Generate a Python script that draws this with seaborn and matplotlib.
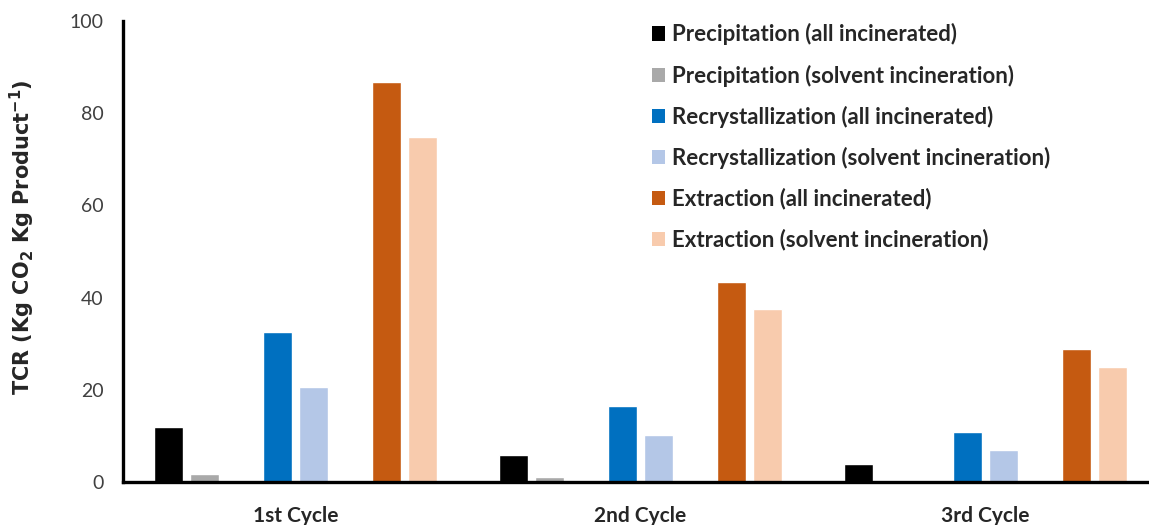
import matplotlib
matplotlib.use("Agg")
import matplotlib.pyplot as plt
from matplotlib.patches import Patch
import pandas as pd
import seaborn as sns

# values (Kg CO2 / Kg product)
CYCLES = ["1st Cycle", "2nd Cycle", "3rd Cycle"]
PRECIP_ALL = [12.0, 5.8, 3.8]
PRECIP_SOLV = [1.8, 1.0, 0.0]
RECRYST_ALL = [32.5, 16.4, 10.8]
RECRYST_SOLV = [20.5, 10.3, 6.9]
EXTRACT_ALL = [86.8, 43.4, 28.9]
EXTRACT_SOLV = [74.8, 37.5, 25.0]

SERIES = [
    "Precipitation (all incinerated)",
    "Precipitation (solvent incineration)",
    "Recrystallization (all incinerated)",
    "Recrystallization (solvent incineration)",
    "Extraction (all incinerated)",
    "Extraction (solvent incineration)",
]
COLORS = ["#000000", "#A9A9A9", "#0070C0", "#B4C7E7", "#C55A11", "#F8CBAD"]

# two empty hue levels keep the gap between process pairs
SPACER1, SPACER2 = "_gap1", "_gap2"
HUE_ORDER = [SERIES[0], SERIES[1], SPACER1, SERIES[2], SERIES[3], SPACER2, SERIES[4], SERIES[5]]


def main():
    values = [PRECIP_ALL, PRECIP_SOLV, RECRYST_ALL, RECRYST_SOLV, EXTRACT_ALL, EXTRACT_SOLV]
    rows = []
    for name, vals in zip(SERIES, values):
        for cyc, v in zip(CYCLES, vals):
            rows.append({"cycle": cyc, "series": name, "tcr": v})
    df = pd.DataFrame(rows)

    palette = dict(zip(SERIES, COLORS))
    palette[SPACER1] = "white"
    palette[SPACER2] = "white"

    sns.set_style("white")
    plt.rcParams["font.family"] = ["Lato", "DejaVu Sans"]
    plt.rcParams["mathtext.fontset"] = "dejavusans"

    fig = plt.figure(figsize=(11.49, 5.25), dpi=100)
    ax = fig.add_axes([123 / 1149, 43 / 525, 1035 / 1149, 461 / 525])

    sns.barplot(data=df, x="cycle", y="tcr", hue="series", hue_order=HUE_ORDER,
                palette=palette, width=0.842, gap=0.2, saturation=1,
                legend=False, ax=ax)

    ax.set_ylim(0, 100)
    ax.set_xlim(-0.5, 2.5)
    ax.set_yticks([0, 20, 40, 60, 80, 100])
    ax.tick_params(axis="y", direction="out", length=6, width=2.2, labelsize=14,
                   colors="black", labelcolor="#404040", pad=8)
    ax.tick_params(axis="x", length=0, labelsize=15, pad=17)
    for lab in ax.get_xticklabels():
        lab.set_fontweight("bold")
    ax.set_xlabel("")
    ax.set_ylabel(r"TCR (Kg CO$_\mathbf{2}$ Kg Product$^\mathbf{-1}$)",
                  fontsize=15, fontweight="bold", family="DejaVu Sans")
    ax.yaxis.set_label_coords(-0.083, 0.531)

    sns.despine(ax=ax)
    for side in ["left", "bottom"]:
        ax.spines[side].set_linewidth(2.4)
        ax.spines[side].set_color("black")

    handles = [Patch(facecolor=c, edgecolor="none") for c in COLORS]
    ax.legend(handles, SERIES, loc="upper left", bbox_to_anchor=(0.511, 0.995),
              frameon=False, borderpad=0, borderaxespad=0,
              handlelength=0.6, handleheight=0.6,
              handletextpad=0.3, labelspacing=0.86,
              prop={"size": 16, "weight": "bold"})

    fig.savefig("out.png", dpi=100)
    plt.close(fig)


if __name__ == "__main__":
    main()
